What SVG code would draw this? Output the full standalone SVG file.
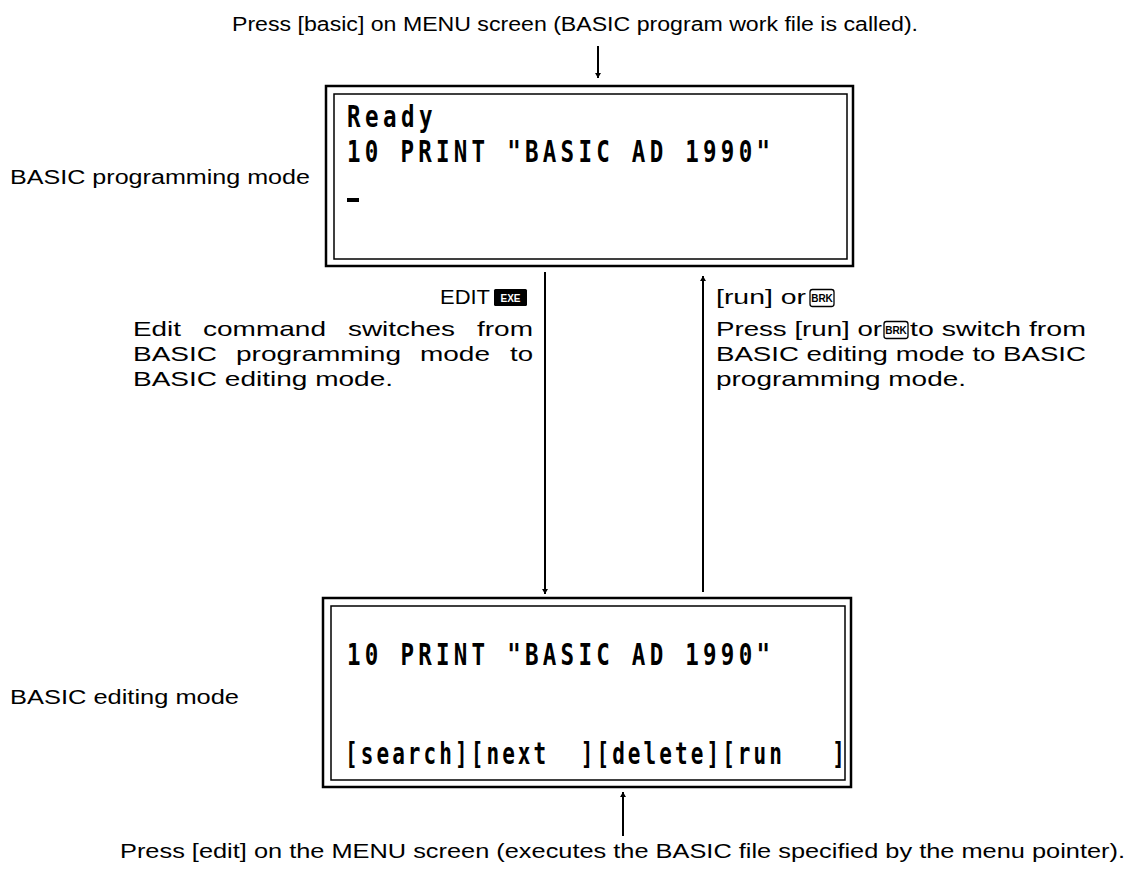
<svg xmlns="http://www.w3.org/2000/svg" width="1147" height="870" viewBox="0 0 1147 870">
<defs>
<style>
.lbl{font-family:"Liberation Sans",Arial,sans-serif;font-size:20px;fill:#000}
.body{font-family:"Liberation Sans",Arial,sans-serif;font-size:21px;fill:#000}
.lcd{font-family:"DejaVu Sans Mono","Liberation Mono",monospace;font-weight:bold;font-size:30px;fill:#000}
.outer{fill:none;stroke:#000;stroke-width:2.5}
.inner{fill:none;stroke:#000;stroke-width:1.5}
.conn{stroke:#000;stroke-width:2;fill:none}
.key{font-family:"Liberation Sans",Arial,sans-serif;font-size:10px;font-weight:bold}
</style>
<marker id="ah" viewBox="0 0 10 20" refX="10" refY="10" markerWidth="5" markerHeight="10" orient="auto" markerUnits="userSpaceOnUse">
<path d="M0,4 L10,10 L0,16 Z" fill="#000"/>
</marker>
</defs>
<rect width="1147" height="870" fill="#fff"/>

<g id="top-caption">
<text class="lbl" x="232" y="31" textLength="686" lengthAdjust="spacingAndGlyphs">Press [basic] on MENU screen (BASIC program work file is called).</text>
</g>

<g id="programming-mode">
<rect class="outer" x="326" y="86" width="527" height="180"/>
<rect class="inner" x="334" y="94" width="513" height="165"/>
<text class="lcd" transform="translate(347,127) scale(0.75,1)" x="0" y="0" textLength="114" lengthAdjust="spacing">Ready</text>
<text class="lcd" transform="translate(347,162) scale(0.75,1)" x="0" y="0" textLength="564" lengthAdjust="spacing">10 PRINT "BASIC AD 1990"</text>
<rect x="347" y="198" width="12" height="4" fill="#000"/>
<text class="lbl" x="10" y="184" textLength="300" lengthAdjust="spacingAndGlyphs">BASIC programming mode</text>
</g>

<g id="editing-mode">
<rect class="outer" x="323" y="598" width="528" height="189"/>
<rect class="inner" x="331" y="606" width="514" height="174"/>
<text class="lcd" transform="translate(347,665) scale(0.75,1)" x="0" y="0" textLength="564" lengthAdjust="spacing">10 PRINT "BASIC AD 1990"</text>
<text class="lcd" transform="translate(345,764) scale(0.7,1)" x="0" y="0" font-size="29" textLength="714" lengthAdjust="spacing" xml:space="preserve">[search][next  ][delete][run   ]</text>
<text class="lbl" x="10" y="704" textLength="229" lengthAdjust="spacingAndGlyphs">BASIC editing mode</text>
</g>

<g id="edit-label">
<text class="body" x="440" y="304" textLength="50" lengthAdjust="spacingAndGlyphs">EDIT</text>
<rect x="494" y="289" width="33" height="17" rx="1.5" fill="#000"/>
<text class="key" x="510.5" y="302" text-anchor="middle" fill="#fff">EXE</text>
<text class="body" x="133" y="336" textLength="48" lengthAdjust="spacingAndGlyphs">Edit</text>
<text class="body" x="203" y="336" textLength="123" lengthAdjust="spacingAndGlyphs">command</text>
<text class="body" x="348" y="336" textLength="107" lengthAdjust="spacingAndGlyphs">switches</text>
<text class="body" x="477" y="336" textLength="56" lengthAdjust="spacingAndGlyphs">from</text>
<text class="body" x="133" y="361" textLength="84" lengthAdjust="spacingAndGlyphs">BASIC</text>
<text class="body" x="236" y="361" textLength="165" lengthAdjust="spacingAndGlyphs">programming</text>
<text class="body" x="420" y="361" textLength="70" lengthAdjust="spacingAndGlyphs">mode</text>
<text class="body" x="510" y="361" textLength="23" lengthAdjust="spacingAndGlyphs">to</text>
<text class="body" x="133" y="386" textLength="260" lengthAdjust="spacingAndGlyphs">BASIC editing mode.</text>
</g>

<g id="run-label">
<text class="body" x="716" y="304" textLength="90" lengthAdjust="spacingAndGlyphs">[run] or</text>
<rect x="810" y="289.5" width="24" height="17" rx="2.5" fill="#fff" stroke="#000" stroke-width="1.3"/>
<text class="key" x="822" y="302" text-anchor="middle" fill="#000" font-size="9">BRK</text>
<text class="body" x="716" y="336" textLength="166" lengthAdjust="spacingAndGlyphs">Press [run] or</text>
<rect x="884" y="321.5" width="24" height="17" rx="2.5" fill="#fff" stroke="#000" stroke-width="1.3"/>
<text class="key" x="896" y="334" text-anchor="middle" fill="#000" font-size="9">BRK</text>
<text class="body" x="910" y="336" textLength="176" lengthAdjust="spacingAndGlyphs">to switch from</text>
<text class="body" x="716" y="361" textLength="370" lengthAdjust="spacingAndGlyphs">BASIC editing mode to BASIC</text>
<text class="body" x="716" y="386" textLength="250" lengthAdjust="spacingAndGlyphs">programming mode.</text>
</g>

<g id="bottom-caption">
<text class="lbl" x="120" y="858" textLength="1005" lengthAdjust="spacingAndGlyphs">Press [edit] on the MENU screen (executes the BASIC file specified by the menu pointer).</text>
</g>

<g id="connectors">
<line class="conn" x1="598" y1="46" x2="598" y2="78" stroke-width="1.5" marker-end="url(#ah)"/>
<line class="conn" x1="545" y1="272" x2="545" y2="594" marker-end="url(#ah)"/>
<line class="conn" x1="703" y1="592" x2="703" y2="276" marker-end="url(#ah)"/>
<line class="conn" x1="623" y1="836" x2="623" y2="792" stroke-width="1.5" marker-end="url(#ah)"/>
</g>
</svg>
